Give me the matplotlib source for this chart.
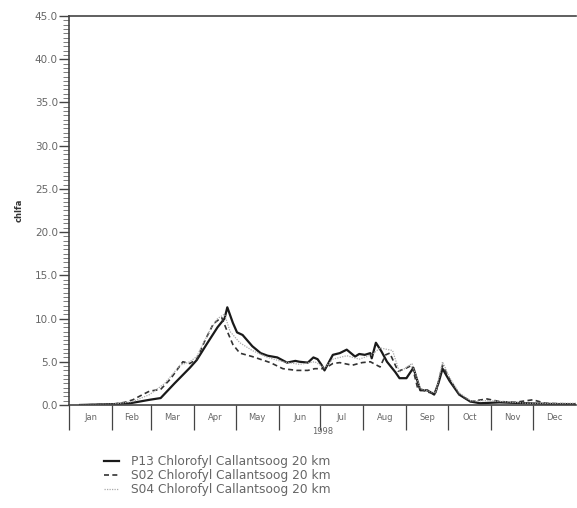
import numpy as np
import matplotlib
matplotlib.use("Agg")
import matplotlib.pyplot as plt
from matplotlib.ticker import FixedLocator, MultipleLocator, NullFormatter, FixedFormatter

# day of year / chlorophyll values
p13_day = [8, 32, 44, 58, 66, 76, 87, 92, 99, 107, 110, 112, 114, 118, 121, 125, 132, 138, 143,
           150, 157, 163, 166, 172, 176, 179, 182, 184, 190, 195, 200, 206, 209, 213, 217, 218,
           221, 225, 229, 235, 238, 243, 248, 253, 258, 263, 266, 269, 274, 281, 289, 296, 310,
           330, 350, 365]
p13_val = [0.0, 0.1, 0.2, 0.6, 0.8, 2.5, 4.3, 5.2, 7.0, 9.0, 9.6, 10.0, 11.3, 9.5, 8.4, 8.1, 6.8,
           6.0, 5.7, 5.5, 4.9, 5.1, 5.0, 4.9, 5.5, 5.3, 4.6, 4.0, 5.8, 6.0, 6.4, 5.6, 5.9, 5.8, 6.0,
           5.4, 7.2, 6.2, 5.0, 3.8, 3.1, 3.1, 4.3, 1.7, 1.7, 1.2, 2.5, 4.2, 2.8, 1.2, 0.4, 0.2, 0.3,
           0.2, 0.1, 0.1]

s02_day = [8, 32, 40, 46, 53, 58, 66, 73, 82, 87, 92, 98, 104, 108, 110, 114, 118, 123, 132, 145,
           154, 164, 172, 177, 184, 190, 195, 204, 211, 217, 224, 228, 231, 237, 242, 247, 251,
           258, 264, 269, 274, 281, 289, 301, 310, 321, 334, 343, 365]
s02_val = [0.0, 0.1, 0.3, 0.6, 1.2, 1.6, 1.8, 3.0, 5.0, 4.8, 5.3, 7.5, 9.4, 9.9, 10.1, 8.5, 7.0,
           6.0, 5.6, 4.9, 4.2, 4.0, 4.0, 4.2, 4.2, 4.8, 4.9, 4.6, 4.9, 5.0, 4.4, 5.8, 6.0, 3.9,
           4.2, 4.6, 2.0, 1.5, 1.3, 4.6, 3.0, 1.2, 0.4, 0.7, 0.4, 0.3, 0.6, 0.2, 0.1]

s04_day = [8, 32, 46, 58, 69, 80, 87, 92, 101, 107, 112, 116, 123, 132, 143, 154, 166, 177, 184,
           190, 200, 209, 218, 224, 233, 238, 247, 253, 264, 269, 274, 281, 289, 303, 330, 365]
s04_val = [0.0, 0.1, 0.4, 1.2, 2.5, 4.6, 5.0, 5.6, 8.5, 10.0, 10.5, 8.5, 7.2, 6.3, 5.5, 5.0, 4.7,
           5.0, 4.3, 5.3, 5.7, 5.3, 5.8, 6.6, 6.3, 3.8, 4.8, 1.9, 1.4, 5.0, 3.2, 1.4, 0.5, 0.5,
           0.2, 0.2]

months = ["Jan", "Feb", "Mar", "Apr", "May", "Jun", "Jul", "Aug", "Sep", "Oct", "Nov", "Dec"]
month_start = [0, 31, 59, 90, 120, 151, 181, 212, 243, 273, 304, 334, 365]
series_names = ["P13 Chlorofyl Callantsoog 20 km",
                "S02 Chlorofyl Callantsoog 20 km",
                "S04 Chlorofyl Callantsoog 20 km"]

TXT = "#666666"

fig = plt.figure(figsize=(5.77, 5.08), dpi=100)
ax = fig.add_axes([0.1196, 0.2028, 0.8784, 0.7657])

l1, = ax.plot(p13_day, p13_val, color="#1a1a1a", lw=1.6)
l2, = ax.plot(s02_day, s02_val, color="#333333", lw=1.2, dashes=(3, 2))
l3, = ax.plot(s04_day, s04_val, color="#aaaaaa", lw=0.9, linestyle=(0, (1, 1)))

ax.set_xlim(0, 365)
ax.set_ylim(0, 45)

ax.set_yticks(np.arange(0, 46, 5))
ax.set_yticklabels([f"{v:.1f}" for v in np.arange(0, 46, 5)])
ax.yaxis.set_minor_locator(MultipleLocator(0.5))
ax.tick_params(axis="y", which="major", length=7, width=1.0, color="#444444",
               labelsize=7.5, labelcolor=TXT, pad=1)
ax.tick_params(axis="y", which="minor", length=4.5, width=0.6, color="#666666")

centers = [(month_start[i] + month_start[i + 1]) / 2 for i in range(12)]
ax.xaxis.set_major_locator(FixedLocator(month_start[:-1]))
ax.xaxis.set_major_formatter(NullFormatter())
ax.xaxis.set_minor_locator(FixedLocator(centers))
ax.xaxis.set_minor_formatter(FixedFormatter(months))
ax.tick_params(axis="x", which="major", length=18, width=0.9, color="#444444")
ax.tick_params(axis="x", which="minor", length=0, labelsize=6, labelcolor=TXT, pad=6)

ax.set_xlabel("1998", fontsize=6, color=TXT, labelpad=-6)
ax.set_ylabel("chlfa", fontsize=6, color="#333333", fontweight="bold", labelpad=8)

for side in ["left", "bottom", "top"]:
    ax.spines[side].set_color("#444444")
    ax.spines[side].set_linewidth(1.2)
ax.spines["right"].set_visible(False)

fig.legend([l1, l2, l3], series_names, loc="upper left",
           bbox_to_anchor=(0.172, 0.113), frameon=False, fontsize=8.8,
           labelcolor=TXT, handlelength=1.2, handletextpad=1.0, labelspacing=0.08,
           borderaxespad=0)

fig.savefig("out.png", dpi=100)
